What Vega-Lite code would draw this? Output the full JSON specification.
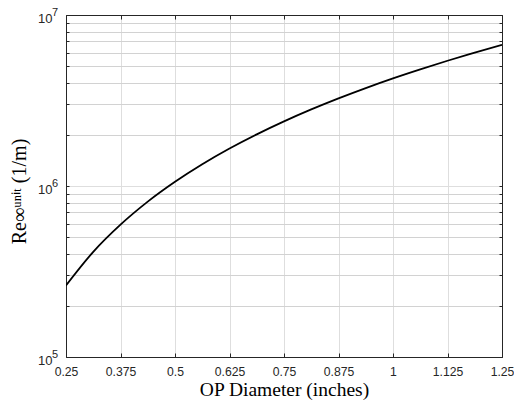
{
  "$schema": "https://vega.github.io/schema/vega-lite/v6.json",
  "width": 436,
  "height": 342,
  "autosize": "none",
  "padding": {"left": 66, "top": 15, "right": 12, "bottom": 45},
  "background": "white",
  "config": {
    "view": {"stroke": "#262626", "strokeWidth": 1},
    "axis": {
      "labelFont": "Arial, Liberation Sans, Helvetica, sans-serif",
      "labelFontSize": 12,
      "labelColor": "#262626",
      "titleFont": "Times New Roman, Liberation Serif, serif",
      "titleFontWeight": "normal",
      "titleColor": "#000000",
      "domainColor": "#262626",
      "tickColor": "#262626"
    }
  },
  "data": {
    "values": [
      {"d": 0.25, "re": 262000},
      {"d": 0.3125, "re": 412000},
      {"d": 0.375, "re": 594000},
      {"d": 0.4375, "re": 810000},
      {"d": 0.5, "re": 1058000},
      {"d": 0.5625, "re": 1340000},
      {"d": 0.625, "re": 1656000},
      {"d": 0.6875, "re": 2005000},
      {"d": 0.75, "re": 2388000},
      {"d": 0.8125, "re": 2805000},
      {"d": 0.875, "re": 3255000},
      {"d": 0.9375, "re": 3740000},
      {"d": 1.0, "re": 4260000},
      {"d": 1.0625, "re": 4810000},
      {"d": 1.125, "re": 5400000},
      {"d": 1.1875, "re": 6020000},
      {"d": 1.25, "re": 6700000}
    ]
  },
  "resolve": {"axis": {"x": "independent", "y": "independent"}},
  "layer": [
    {
      "mark": {"type": "line", "color": "black", "strokeWidth": 1.8, "interpolate": "monotone", "clip": true},
      "encoding": {
        "x": {
          "field": "d", "type": "quantitative",
          "scale": {"domain": [0.25, 1.25], "nice": false, "zero": false},
          "axis": {
            "orient": "bottom",
            "values": [0.25, 0.375, 0.5, 0.625, 0.75, 0.875, 1, 1.125, 1.25],
            "labelExpr": "format(datum.value, '.4~f')",
            "labelFontSize": 12.2,
            "title": "OP Diameter (inches)",
            "titleFontSize": 19.5,
            "titlePadding": 3,
            "tickSize": -4,
            "labelPadding": 12,
            "grid": true,
            "gridColor": "#dedede",
            "labelFlush": false
          }
        },
        "y": {
          "field": "re", "type": "quantitative",
          "scale": {"type": "log", "domain": [100000, 10000000], "nice": false},
          "axis": {
            "orient": "left",
            "values": [100000, 200000, 300000, 400000, 500000, 600000, 700000, 800000, 900000, 1000000, 2000000, 3000000, 4000000, 5000000, 6000000, 7000000, 8000000, 9000000, 10000000],
            "labelExpr": "datum.value == 100000 || datum.value == 1000000 || datum.value == 10000000 ? '10' : ''",
            "labelFontSize": 13,
            "labelBaseline": "middle",
            "labelOffset": 3,
            "title": "Re∞ᵘⁿⁱᵗ (1/m)",
            "titleFontSize": 20,
            "titlePadding": 8,
            "titleY": 176,
            "tickSize": -3,
            "labelPadding": 17,
            "grid": true,
            "gridColor": {"condition": {"test": "datum.value == 1000000", "value": "#dedede"}, "value": "#d2d2d2"}
          }
        }
      }
    },
    {
      "mark": {"type": "line", "opacity": 0},
      "encoding": {
        "x": {
          "field": "d", "type": "quantitative",
          "axis": {
            "orient": "top",
            "values": [0.25, 0.375, 0.5, 0.625, 0.75, 0.875, 1, 1.125, 1.25],
            "labels": false, "title": null, "grid": false, "tickSize": -4
          }
        },
        "y": {
          "field": "re", "type": "quantitative",
          "axis": {
            "orient": "right",
            "values": [100000, 200000, 300000, 400000, 500000, 600000, 700000, 800000, 900000, 1000000, 2000000, 3000000, 4000000, 5000000, 6000000, 7000000, 8000000, 9000000, 10000000],
            "labels": false, "title": null, "grid": false, "tickSize": -3
          }
        }
      }
    },
    {
      "data": {"values": [{"v": 100000, "e": "5"}, {"v": 1000000, "e": "6"}, {"v": 10000000, "e": "7"}]},
      "mark": {"type": "text", "align": "left", "baseline": "middle", "dx": -14, "dy": -2, "font": "Arial, Liberation Sans, Helvetica, sans-serif", "fontSize": 11, "color": "#262626"},
      "encoding": {
        "x": {"datum": 0.25, "type": "quantitative", "axis": null},
        "y": {"field": "v", "type": "quantitative", "axis": null},
        "text": {"field": "e"}
      }
    }
  ]
}
